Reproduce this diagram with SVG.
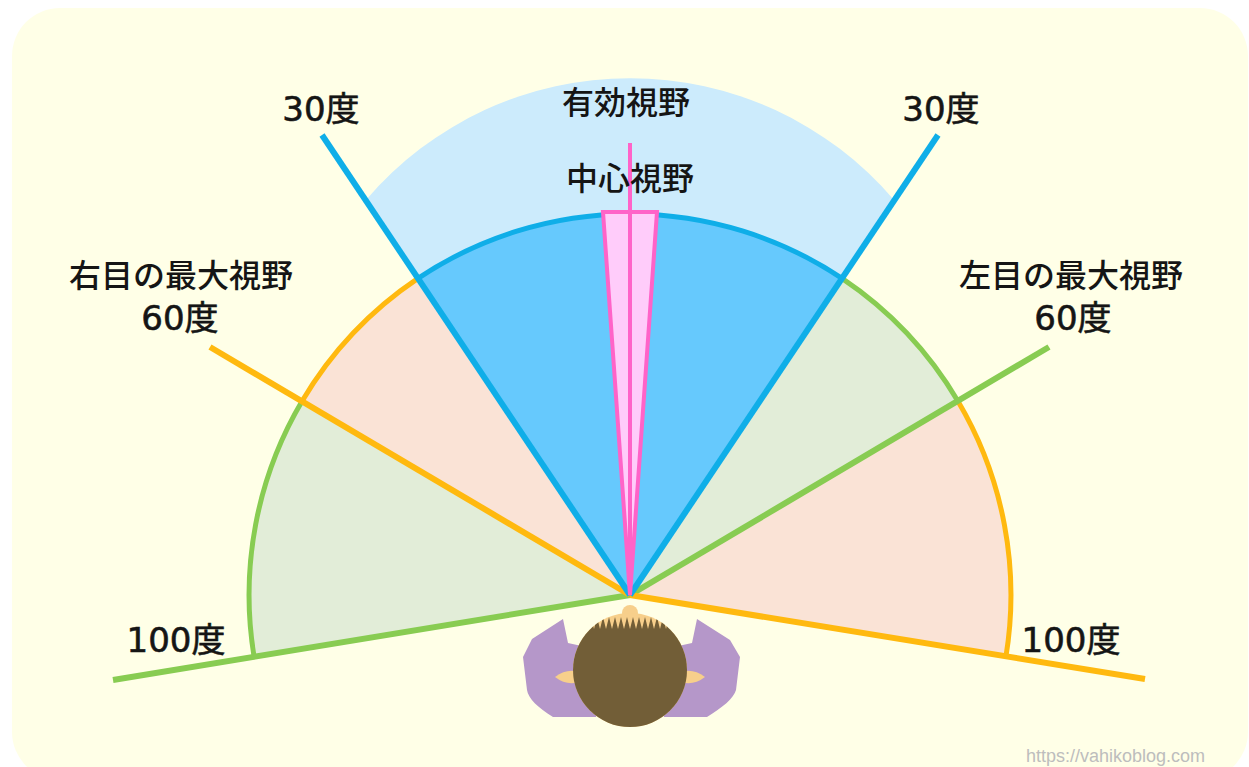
<svg xmlns="http://www.w3.org/2000/svg" width="1249" height="767" viewBox="0 0 1249 767">
  <style>
    .lbl { font-family: "Noto Sans CJK JP", "Noto Sans CJK SC", sans-serif; font-size: 32px; font-weight: 500; fill: #151515; text-anchor: middle; }
    .deg { font-family: "DejaVu Sans", "Noto Sans CJK JP", sans-serif; font-size: 34px; fill: #151515; stroke: #151515; stroke-width: 0.6; text-anchor: middle; }
    .arc { fill: none; stroke-width: 5; }
    .ray { stroke-width: 6; stroke-linecap: butt; }
    .blue { stroke: #0FAEE8; }
    .orange { stroke: #FFB90F; }
    .green { stroke: #88CC52; }
    .pink { stroke: #FF63C8; }
    .wm { font-family: "Liberation Sans", Arial, sans-serif; font-size: 18px; fill: #BDBDBD; text-anchor: end; }
  </style>
  <defs>
    <clipPath id="headClip">
      <circle cx="630" cy="670" r="57"/>
    </clipPath>
  </defs>

  <!-- page -->
  <rect x="0" y="0" width="1249" height="767" fill="#FFFFFF"/>
  <rect x="12" y="8" width="1236" height="772" rx="48" ry="48" fill="#FFFFE7"/>

  <!-- effective field (outer light blue band) -->
  <g id="effective-field">
    <path d="M630,595 L366,200 A347,347 0 0 1 894,200 Z" fill="#CCEBFC"/>
  </g>

  <!-- sector fills -->
  <g id="sectors">
    <path id="left-outer" d="M630,595 L254.1,656.8 A381,381 0 0 1 302,401.3 Z" fill="#E2EDD8"/>
    <path id="left-inner" d="M630,595 L302,401.3 A381,381 0 0 1 418,278.4 Z" fill="#FAE3D6"/>
    <path id="central" d="M630,595 L418,278.4 A381,381 0 0 1 842,278.4 Z" fill="#66C9FD"/>
    <path id="right-inner" d="M630,595 L842,278.4 A381,381 0 0 1 958,401.3 Z" fill="#E2EDD8"/>
    <path id="right-outer" d="M630,595 L958,401.3 A381,381 0 0 1 1005.9,656.8 Z" fill="#FAE3D6"/>
  </g>

  <!-- rims and rays -->
  <g id="connectors">
    <path class="arc green" d="M254.1,656.8 A381,381 0 0 1 302,401.3"/>
    <path class="arc orange" d="M302,401.3 A381,381 0 0 1 418,278.4"/>
    <path class="arc blue" d="M418,278.4 A381,381 0 0 1 842,278.4"/>
    <path class="arc green" d="M842,278.4 A381,381 0 0 1 958,401.3"/>
    <path class="arc orange" d="M958,401.3 A381,381 0 0 1 1005.9,656.8"/>

    <line class="ray green" x1="630" y1="595" x2="113" y2="680"/>
    <line class="ray green" x1="630" y1="595" x2="1049" y2="347"/>
    <line class="ray orange" x1="630" y1="595" x2="210" y2="347"/>
    <line class="ray orange" x1="630" y1="595" x2="1145" y2="679"/>
    <line class="ray blue" x1="630" y1="595" x2="322" y2="135"/>
    <line class="ray blue" x1="630" y1="595" x2="938" y2="135"/>
  </g>

  <!-- central vision wedge -->
  <g id="central-vision">
    <path d="M630,595 L603,212 L657,212 Z" fill="#FFCCFA" stroke="#FF63C8" stroke-width="4" stroke-linejoin="miter"/>
    <line class="pink" x1="630" y1="595" x2="630" y2="143" stroke-width="4"/>
  </g>

  <!-- viewer seen from above -->
  <g id="viewer">
    <path d="M563,619 L568,643 L600,650 L596,717 L553,717 C538,708 528,698 527,690 L523,657 L532,639 Z" fill="#B597C9"/>
    <path d="M697,619 L692,643 L660,650 L664,717 L707,717 C722,708 734,698 736,690 L740,657 L730,640 Z" fill="#B597C9"/>
    <path d="M555,677 Q568,667 582,673 L582,681 Q568,687 555,677 Z" fill="#F7CF8B"/>
    <path d="M705,677 Q692,667 678,673 L678,681 Q692,687 705,677 Z" fill="#F7CF8B"/>
    <circle cx="630" cy="613" r="8" fill="#F7CF8B"/>
    <g clip-path="url(#headClip)">
      <rect x="570" y="605" width="120" height="130" fill="#F7CF8B"/>
      <polygon fill="#725E37" points="560,629 588,629 591,617 594,629 597,617 600,629 603,617 606,629 609,617 612,629 615,617 618,629 621,617 624,629 627,617 630,629 633,617 636,629 639,617 642,629 645,617 648,629 651,617 654,629 657,617 660,629 663,617 666,629 669,617 672,629 700,629 700,740 560,740"/>
    </g>
  </g>

  <!-- labels -->
  <g id="labels">
    <text class="lbl" x="626" y="114">有効視野</text>
    <text class="lbl" x="630" y="190">中心視野</text>
    <text class="deg" x="321" y="121">30度</text>
    <text class="deg" x="941" y="121">30度</text>
    <text class="lbl" x="181" y="287" font-size="33">右目の最大視野</text>
    <text class="deg" x="180" y="330">60度</text>
    <text class="lbl" x="1071" y="287" font-size="33">左目の最大視野</text>
    <text class="deg" x="1073" y="330">60度</text>
    <text class="deg" x="176" y="652">100度</text>
    <text class="deg" x="1071" y="652">100度</text>
    <text class="wm" x="1205" y="762">https://vahikoblog.com</text>
  </g>
</svg>
